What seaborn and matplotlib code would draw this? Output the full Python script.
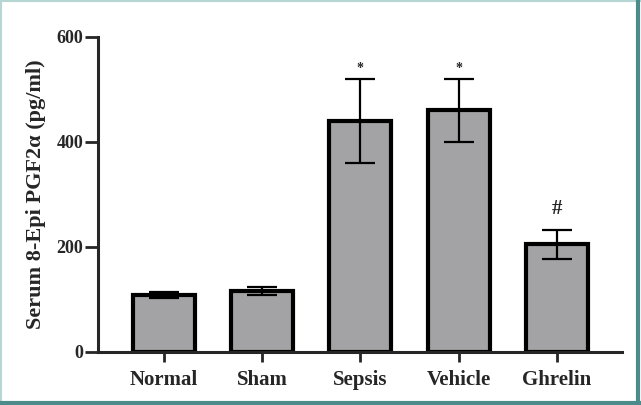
import matplotlib
matplotlib.use("Agg")
import matplotlib.pyplot as plt
from matplotlib.lines import Line2D
import seaborn as sns
import pandas as pd

groups = ["Normal", "Sham", "Sepsis", "Vehicle", "Ghrelin"]
means = [108, 116, 440, 460, 205]
errors = [6, 8, 80, 60, 28]
marks = ["", "", "*", "*", "#"]

df = pd.DataFrame({"group": groups, "value": means})

sns.set_style("ticks")
plt.rcParams["font.family"] = ["Liberation Serif", "DejaVu Serif"]
plt.rcParams["font.weight"] = "bold"

fig = plt.figure(figsize=(6.41, 4.05), dpi=100)
ax = fig.add_axes([0.153, 0.131, 0.817, 0.778])

sns.barplot(data=df, x="group", y="value", color="#a2a2a6", width=0.63,
            edgecolor="black", linewidth=3, ax=ax, errorbar=None)
ax.errorbar(range(len(groups)), means, yerr=errors, fmt="none", ecolor="black",
            elinewidth=1.6, capsize=11, capthick=1.6)

# significance marks
for i, (m, e, s) in enumerate(zip(means, errors, marks)):
    if s == "*":
        ax.text(i, m + e + 8, s, ha="center", va="bottom", fontsize=10)
    elif s == "#":
        ax.text(i, m + e + 20, s, ha="center", va="bottom", fontsize=15)

ax.set_xlim(-0.67, 4.66)
ax.set_ylim(0, 600)
ax.set_yticks([0, 200, 400, 600])
ax.set_xlabel("")
ax.set_ylabel("Serum 8-Epi PGF2α (pg/ml)", fontsize=16, fontweight="bold", labelpad=8)
ax.tick_params(axis="x", labelsize=15, width=2, length=7, pad=6)
ax.tick_params(axis="y", labelsize=13, width=2, length=9.5, pad=1)
for lab in ax.get_xticklabels() + ax.get_yticklabels():
    lab.set_fontweight("bold")
sns.despine(ax=ax)
for sp in ["left", "bottom"]:
    ax.spines[sp].set_linewidth(2.2)

# teal frame around the figure
fig.add_artist(Line2D([0, 1], [0.998, 0.998], transform=fig.transFigure, color="#b6d6d3", lw=1.5))
fig.add_artist(Line2D([0.001, 0.001], [0, 1], transform=fig.transFigure, color="#b6d6d3", lw=1.5))
fig.add_artist(Line2D([0.996, 0.996], [0, 1], transform=fig.transFigure, color="#4b8c8a", lw=3))
fig.add_artist(Line2D([0, 1], [0.005, 0.005], transform=fig.transFigure, color="#4b8c8a", lw=3))

fig.savefig("out.png", dpi=100)
